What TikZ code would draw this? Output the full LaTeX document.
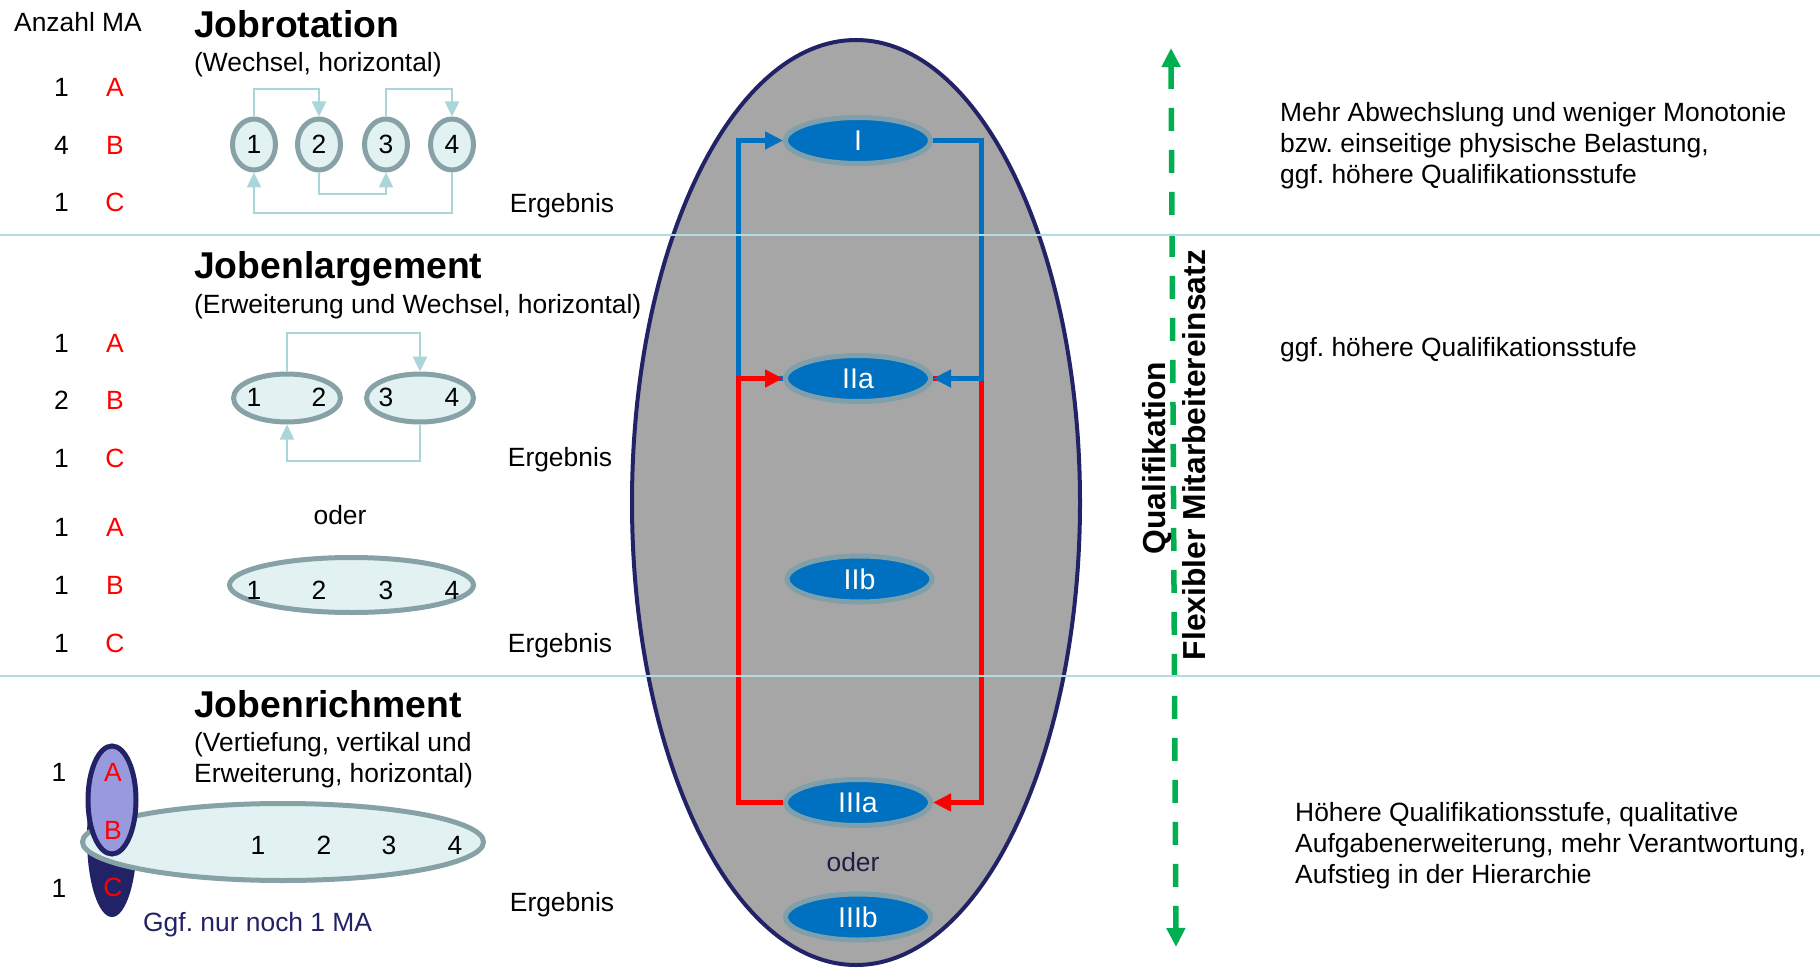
\documentclass[tikz,border=0pt]{standalone}
\usepackage{fontspec}
\setmainfont{Liberation Sans}
\usetikzlibrary{shapes.geometric,arrows.meta}
\frenchspacing

\definecolor{rulecyan}{RGB}{178,220,224}
\definecolor{flowcyan}{RGB}{170,214,218}
\definecolor{jobgray}{RGB}{134,162,166}
\definecolor{jobfill}{RGB}{226,242,242}
\definecolor{poolgray}{RGB}{166,166,166}
\definecolor{navy}{RGB}{34,34,102}
\definecolor{darknavy}{RGB}{30,30,70}
\definecolor{lavender}{RGB}{153,153,221}
\definecolor{stageblue}{RGB}{0,112,192}
\definecolor{stagerim}{RGB}{127,160,170}
\definecolor{qualgreen}{RGB}{0,176,80}

\tikzset{
  txt/.style={anchor=base, inner sep=0pt},
  ma/.style={txt, text=red},
  head/.style={anchor=base west, inner sep=0pt, font=\fontsize{37.3}{44}\selectfont\bfseries},
  sub/.style={anchor=base west, inner sep=0pt, align=left},
  job/.style={ellipse, draw=jobgray, fill=jobfill, line width=5pt, inner sep=0pt},
  jobflow/.style={draw=flowcyan, line width=2.5pt, -{Triangle[length=15pt,width=14pt]}},
  stage/.style={ellipse, draw=stagerim, fill=stageblue, line width=5pt, inner sep=0pt,
    minimum width=145pt, minimum height=46pt, text=white, font=\fontsize{28.5}{34}\selectfont},
  stageflow/.style={line width=5pt, -{Triangle[length=18pt,width=17pt]}},
  axis/.style={anchor=base, inner sep=0pt, rotate=90, font=\fontsize{31.8}{38}\selectfont\bfseries},
}

\begin{document}
\begin{tikzpicture}[x=1pt, y=-1pt, font=\fontsize{26.4}{31}\selectfont]
  \useasboundingbox (0,0) rectangle (1820,968);

  % rows and columns for the connectors
  \coordinate (rot_top) at (0,89);
  \coordinate (rot_mid) at (0,194);
  \coordinate (rot_low) at (0,213);
  \coordinate (enl_top) at (0,333);
  \coordinate (enl_low) at (0,461);
  \coordinate (flow_left) at (738,0);
  \coordinate (flow_right) at (981,0);

  % the pool of stages
  \node [ellipse, draw=navy, fill=poolgray, line width=4pt, inner sep=0pt,
    minimum width=448pt, minimum height=925pt] (pool) at (856,502.5) {};

  \node [txt] (count) at (78,32) {Anzahl MA};

  % Jobrotation
  \node [head] (rot_title) at (194,37.5) {Jobrotation};
  \node [sub] (rot_sub) at (194,72) {(Wechsel, horizontal)};
  \node [txt] (rot_na) at (61.5,96.5) {1};  \node [ma] (rot_a) at (115,96.5) {A};
  \node [txt] (rot_nb) at (61.5,154.5) {4}; \node [ma] (rot_b) at (115,154.5) {B};
  \node [txt] (rot_nc) at (61.5,211.5) {1}; \node [ma] (rot_c) at (115,211.5) {C};
  \node [job, minimum width=43pt, minimum height=51pt] (rot1) at (254,144.5) {1};
  \node [job, minimum width=43pt, minimum height=51pt] (rot2) at (319,144.5) {2};
  \node [job, minimum width=43pt, minimum height=51pt] (rot3) at (386,144.5) {3};
  \node [job, minimum width=43pt, minimum height=51pt] (rot4) at (452,144.5) {4};
  \draw [jobflow] (rot1.north) -- (rot1.north |- rot_top) -| (rot2.north);
  \draw [jobflow] (rot3.north) -- (rot3.north |- rot_top) -| (rot4.north);
  \draw [jobflow] (rot2.south) -- (rot2.south |- rot_mid) -| (rot3.south);
  \draw [jobflow] (rot4.south) -- (rot4.south |- rot_low) -| (rot1.south);
  \node [txt] (rot_res) at (562,212.5) {Ergebnis};

  % Jobenlargement
  \node [head] (enl_title) at (194,279) {Jobenlargement};
  \node [sub] (enl_sub) at (194,313) {(Erweiterung und Wechsel, horizontal)};
  \node [txt] (enl_na) at (61.5,352.5) {1}; \node [ma] (enl_a) at (115,352.5) {A};
  \node [txt] (enl_nb) at (61.5,409.5) {2}; \node [ma] (enl_b) at (115,409.5) {B};
  \node [txt] (enl_nc) at (61.5,467.5) {1}; \node [ma] (enl_c) at (115,467.5) {C};
  \node [job, minimum width=107pt, minimum height=48pt] (enl12) at (287,398) {};
  \node [job, minimum width=107pt, minimum height=48pt] (enl34) at (420,398) {};
  \node [txt] (enl1) at (254,406.5) {1};
  \node [txt] (enl2) at (319,406.5) {2};
  \node [txt] (enl3) at (386,406.5) {3};
  \node [txt] (enl4) at (452,406.5) {4};
  \draw [jobflow] (enl12.north) -- (enl12.north |- enl_top) -| (enl34.north);
  \draw [jobflow] (enl34.south) -- (enl34.south |- enl_low) -| (enl12.south);
  \node [txt] (enl_res) at (560,466.5) {Ergebnis};
  \node [txt] (enl_or) at (340,524) {oder};
  \node [txt] (all_na) at (61.5,536.5) {1}; \node [ma] (all_a) at (115,536.5) {A};
  \node [txt] (all_nb) at (61.5,594.5) {1}; \node [ma] (all_b) at (115,594.5) {B};
  \node [txt] (all_nc) at (61.5,652.5) {1}; \node [ma] (all_c) at (115,652.5) {C};
  \node [job, minimum width=244pt, minimum height=55pt] (enl1234) at (351.5,585) {};
  \node [txt] (all1) at (254,599.5) {1};
  \node [txt] (all2) at (319,599.5) {2};
  \node [txt] (all3) at (386,599.5) {3};
  \node [txt] (all4) at (452,599.5) {4};
  \node [txt] (all_res) at (560,652.5) {Ergebnis};

  % Jobenrichment (a multi-line node sits on its last baseline)
  \node [head] (ric_title) at (194,717) {Jobenrichment};
  \node [sub] (ric_sub) at (194,782) {(Vertiefung, vertikal und\\Erweiterung, horizontal)};
  \node [ellipse, fill=navy, inner sep=0pt, minimum width=50pt, minimum height=158pt] (ric_back) at (112,838) {};
  \node [job, minimum width=401pt, minimum height=77pt] (ric_all) at (283,842) {};
  \node [ellipse, draw=navy, fill=lavender, line width=5pt, inner sep=0pt,
    minimum width=48pt, minimum height=108pt] (ric_ab) at (112,800) {};
  \node [txt] (ric_na) at (59,781.5) {1};
  \node [txt] (ric_nc) at (59,897.5) {1};
  \node [ma] (ric_a) at (113,781.5) {A};
  \node [ma] (ric_b) at (113,839.5) {B};
  \node [ma] (ric_c) at (113,896.5) {C};
  \node [txt] (ric1) at (258,854.5) {1};
  \node [txt] (ric2) at (324,854.5) {2};
  \node [txt] (ric3) at (389,854.5) {3};
  \node [txt] (ric4) at (455,854.5) {4};
  \node [anchor=base west, inner sep=0pt, text=navy] (ric_note) at (143,931.5) {Ggf. nur noch 1 MA};
  \node [txt] (ric_res) at (562,911.5) {Ergebnis};

  % stages
  \node [stage] (st1) at (858,140.5) {I};
  \node [stage] (st2a) at (858,378.5) {IIa};
  \node [stage] (st2b) at (859.5,579) {IIb};
  \node [stage] (st3a) at (858,802.5) {IIIa};
  \node [stage] (st3b) at (858,917) {IIIb};
  \node [txt, text=darknavy] (pool_or) at (853,871) {oder};
  \draw [stageflow, red] (st2a.east) -| (flow_right |- st3a.east) -- (st3a.east);
  \draw [stageflow, stageblue] (st2a.west) -| (flow_left |- st1.west) -- (st1.west);
  \draw [stageflow, stageblue] (st1.east) -| (flow_right |- st2a.east) -- (st2a.east);
  \draw [stageflow, red] (st3a.west) -| (flow_left |- st2a.west) -- (st2a.west);

  % qualification axis
  \coordinate (qual_top) at (1171,48);
  \coordinate (qual_bot) at (1176,947);
  \draw [qualgreen, line width=5.5pt, dash pattern=on 23pt off 19pt,
    {Triangle[length=19pt,width=18pt]}-{Triangle[length=19pt,width=18pt]}] (qual_top) -- (qual_bot);
  \node [axis] (qual) at (1165,458) {Qualifikation};
  \node [axis] (flex) at (1205,455) {Flexibler Mitarbeitereinsatz};

  % effects
  \node [sub] (gain_rot) at (1280,184) {Mehr Abwechslung und weniger Monotonie\\bzw. einseitige physische Belastung,\\ggf. höhere Qualifikationsstufe};
  \node [sub] (gain_enl) at (1280,356.5) {ggf. höhere Qualifikationsstufe};
  \node [sub] (gain_ric) at (1295,883) {Höhere Qualifikationsstufe, qualitative\\Aufgabenerweiterung, mehr Verantwortung,\\Aufstieg in der Hierarchie};

  % section rules
  \draw [rulecyan, line width=2.5pt] (0,235) -- (1820,235);
  \draw [rulecyan, line width=2.5pt] (0,676) -- (1820,676);
\end{tikzpicture}
\end{document}
